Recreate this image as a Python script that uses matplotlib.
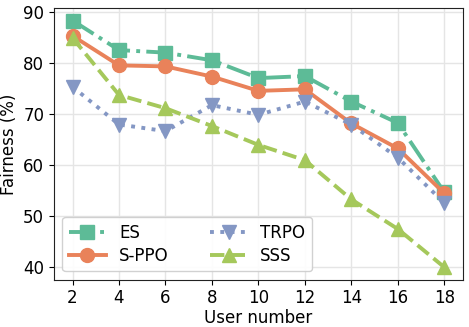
import matplotlib
matplotlib.use("Agg")
import matplotlib.pyplot as plt

users = [2, 4, 6, 8, 10, 12, 14, 16, 18]
es = [88.4, 82.6, 82.1, 80.6, 77.1, 77.5, 72.5, 68.3, 54.7]
sppo = [85.4, 79.6, 79.4, 77.4, 74.6, 74.9, 68.2, 63.3, 54.5]
trpo = [75.4, 68.0, 66.7, 71.8, 69.9, 72.5, 68.0, 61.5, 52.6]
sss = [85.0, 73.8, 71.2, 67.7, 64.0, 61.0, 53.3, 47.5, 40.0]
xticks = [2, 4, 6, 8, 10, 12, 14, 16, 18]
yticks = [40, 50, 60, 70, 80, 90]

colors = ["#5dbb97", "#e9825a", "#8497c4", "#a5c85b"]

fig, ax = plt.subplots(figsize=(4.69, 3.27), dpi=100)
lw = 2.8
ms = 10
ax.plot(users, es, linestyle="-.", marker="s", color=colors[0], lw=lw, ms=ms, label="ES")
ax.plot(users, sppo, linestyle="-", marker="o", color=colors[1], lw=lw, ms=ms, label="S-PPO")
ax.plot(users, trpo, linestyle=":", marker="v", color=colors[2], lw=lw, ms=ms, label="TRPO")
ax.plot(users, sss, linestyle="--", marker="^", color=colors[3], lw=lw, ms=ms, label="SSS")

ax.set_xticks(xticks)
ax.set_yticks(yticks)
ax.tick_params(labelsize=12)
ax.set_xlabel("User number", fontsize=12, labelpad=1)
ax.set_ylabel("Fairness (%)", fontsize=12)
ax.grid(True, color="#e5e5e5", lw=1)
ax.set_axisbelow(True)
for s in ax.spines.values():
    s.set_color("#222222")
ax.legend(ncol=2, loc="lower left", fontsize=12, framealpha=0.9, columnspacing=2.5,
          handlelength=2.2, borderpad=0.4, labelspacing=0.3)
fig.subplots_adjust(left=0.115, right=0.987, top=0.975, bottom=0.145)
fig.savefig("out.png", dpi=100)
